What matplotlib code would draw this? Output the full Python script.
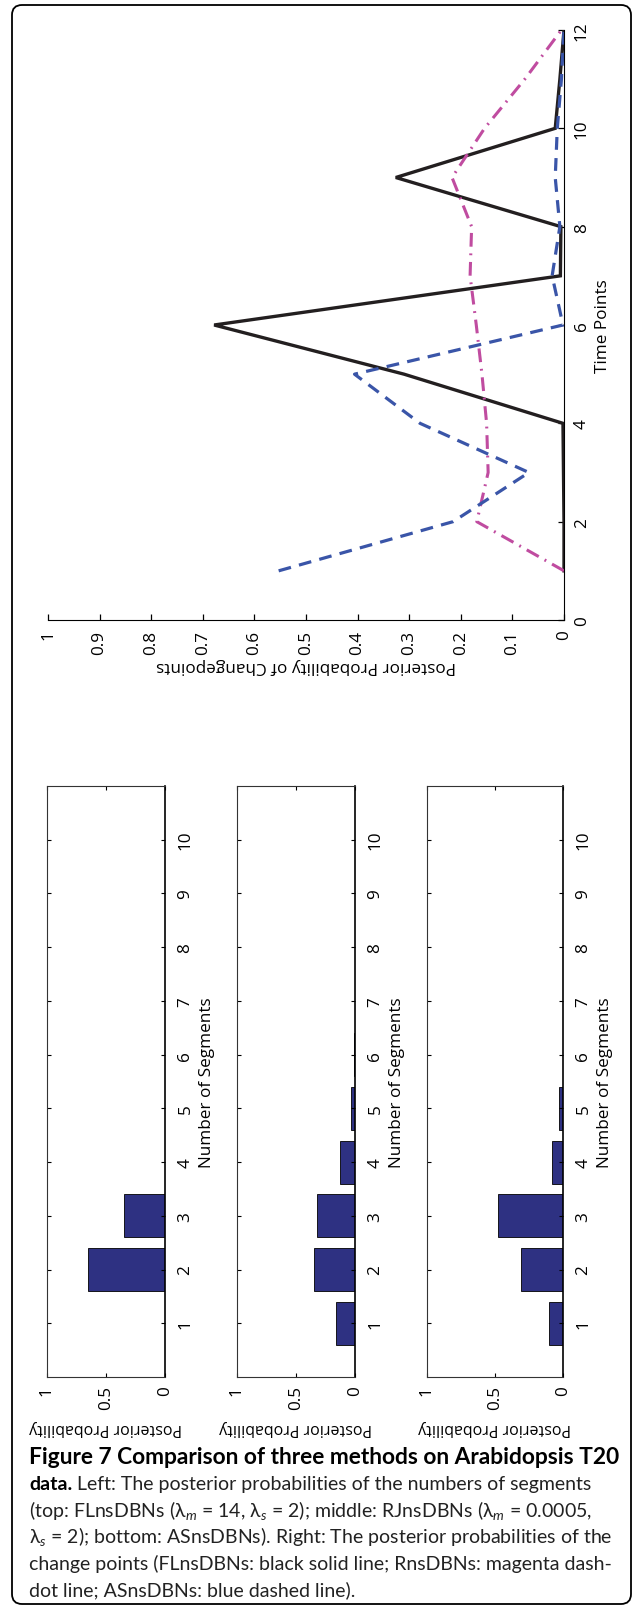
import numpy as np
import matplotlib
matplotlib.use("Agg")
import matplotlib.pyplot as plt
from matplotlib.patches import FancyBboxPatch
from matplotlib.transforms import IdentityTransform

plt.rcParams['font.family'] = ['Open Sans', 'DejaVu Sans']
plt.rcParams['mathtext.fontset'] = 'custom'
plt.rcParams['mathtext.rm'] = 'Lato'
plt.rcParams['mathtext.it'] = 'Lato:italic'
plt.rcParams['mathtext.bf'] = 'Lato:bold'

W, H, DPI = 633, 1608, 100

# right: posterior probability of a changepoint at each time point
time_points = np.arange(1, 13)
cp_flnsdbns = [0.0, 0.0, 0.001, 0.002, 0.31, 0.678, 0.007, 0.006, 0.326, 0.017, 0.008, 0.0]
cp_rnsdbns = [0.0, 0.169, 0.147, 0.150, 0.159, 0.170, 0.182, 0.179, 0.217, 0.154, 0.076, 0.005]
cp_asnsdbns = [0.553, 0.215, 0.068, 0.279, 0.406, 0.002, 0.023, 0.008, 0.017, 0.013, 0.005, 0.0]
prob_ticks = [0, 0.1, 0.2, 0.3, 0.4, 0.5, 0.6, 0.7, 0.8, 0.9, 1]
prob_labels = ['0', '0.1', '0.2', '0.3', '0.4', '0.5', '0.6', '0.7', '0.8', '0.9', '1']
time_ticks = [0, 2, 4, 6, 8, 10, 12]

# left: posterior probability of the number of segments
n_segments = np.arange(1, 11)
seg_flnsdbns = [0.0, 0.65, 0.35, 0.0, 0.0, 0.0, 0.0, 0.0, 0.0, 0.0]
seg_rjnsdbns = [0.16, 0.35, 0.32, 0.13, 0.035, 0.008, 0.0, 0.0, 0.0, 0.0]
seg_asnsdbns = [0.10, 0.31, 0.48, 0.08, 0.03, 0.0, 0.0, 0.0, 0.0, 0.0]

caption_title = "Figure 7 Comparison of three methods on Arabidopsis T20"
caption_lines = [
    "Left: The posterior probabilities of the numbers of segments",
    "(top: FLnsDBNs (λ$_m$ = 14, λ$_s$ = 2); middle: RJnsDBNs (λ$_m$ = 0.0005,",
    "λ$_s$ = 2); bottom: ASnsDBNs). Right: The posterior probabilities of the",
    "change points (FLnsDBNs: black solid line; RnsDBNs: magenta dash-",
    "dot line; ASnsDBNs: blue dashed line).",
]
# right end (px) of each caption line in the reference
caption_ends = [601, 595, 614, 608, None]

BAR = '#2e3182'
TXT = 12.3
CAP_FONT = ['Lato', 'DejaVu Sans']


def px_axes(fig, left, top, right, bottom):
    return fig.add_axes([left / W, 1 - bottom / H, (right - left) / W, (bottom - top) / H])


fig = plt.figure(figsize=(W / DPI, H / DPI), dpi=DPI)

# ---- changepoint plot (drawn rotated: probability runs right-to-left, time upward)
ax = px_axes(fig, 48, 31, 564, 621)
ax.plot(cp_flnsdbns, time_points, color='#231f20', lw=2.4, solid_joinstyle='miter')
ax.plot(cp_rnsdbns, time_points, color='#c04ca0', lw=2.2, ls=(0, (4.5, 2.2, 0.6, 2.2)))
ax.plot(cp_asnsdbns, time_points, color='#3a55a8', lw=2.3, ls=(0, (4, 2.6)))
ax.set_xlim(1, 0)
ax.set_ylim(0, 12)
ax.set_xticks(prob_ticks)
ax.set_xticklabels(prob_labels, rotation=90)
ax.set_yticks(time_ticks)
ax.set_yticklabels([str(t) for t in time_ticks], rotation=90, va='center')
ax.yaxis.tick_right()
ax.yaxis.set_label_position('right')
for s in ['top', 'left']:
    ax.spines[s].set_visible(False)
for s in ['bottom', 'right']:
    ax.spines[s].set_linewidth(0.8)
ax.tick_params(direction='in', length=4, width=0.9, labelsize=TXT)
ax.tick_params(axis='x', pad=7)
ax.tick_params(axis='y', pad=7)
ax.set_xlabel('Posterior Probability of Changepoints', rotation=180, fontsize=TXT, labelpad=2)
ax.set_ylabel('Time Points', rotation=90, fontsize=TXT, labelpad=4)

# ---- three segment-count panels
panels = [(47, 165, seg_flnsdbns), (237, 355, seg_rjnsdbns), (427, 563, seg_asnsdbns)]
for left, right, vals in panels:
    bx = px_axes(fig, left, 787, right, 1378)
    bx.barh(n_segments, vals, height=0.8, color=BAR, edgecolor='black', linewidth=0.6)
    bx.set_xlim(1, 0)
    bx.set_ylim(0, 11)
    bx.set_xticks([0, 0.5, 1])
    bx.set_xticklabels(['0', '0.5', '1'], rotation=90)
    bx.set_yticks(n_segments)
    bx.set_yticklabels([str(n) for n in n_segments], rotation=90, va='center')
    bx.tick_params(direction='in', length=3, width=0.8, labelsize=TXT,
                   top=True, bottom=True, left=True, right=True,
                   labelleft=False, labelright=True)
    bx.tick_params(axis='y', pad=9)
    bx.tick_params(axis='x', pad=6)
    bx.yaxis.set_label_position('right')
    for s in bx.spines.values():
        s.set_linewidth(0.8)
        s.set_edgecolor('#333333')
    bx.spines['right'].set_linewidth(1.2)
    bx.spines['right'].set_edgecolor('black')
    bx.set_ylabel('Number of Segments', rotation=90, fontsize=TXT, labelpad=4)
    bx.set_xlabel('Posterior Probability', rotation=180, fontsize=11.5, labelpad=7)

# ---- caption, sized to the width of the reference lines
renderer = fig.canvas.get_renderer()
x0 = 29
title = fig.text(x0 / W, 1 - 1464 / H, caption_title, fontsize=12, fontweight='bold',
                 family=CAP_FONT, va='baseline')
title.set_fontsize(12 * 589 / title.get_window_extent(renderer).width)

baselines = [1490.5, 1517, 1543, 1570, 1596]
bold = fig.text(x0 / W, 1 - baselines[0] / H, "data.", fontsize=12, fontweight='bold',
                family=CAP_FONT, va='baseline')
texts = [fig.text(x0 / W, 1 - yb / H, line, fontsize=12, family=CAP_FONT,
                  va='baseline', color='#222222')
         for line, yb in zip(caption_lines, baselines)]

bw = bold.get_window_extent(renderer).width
scales = []
for i, (t, end) in enumerate(zip(texts, caption_ends)):
    if end is None:
        continue
    w = t.get_window_extent(renderer).width + (bw * 1.1 if i == 0 else 0)
    scales.append((end - x0) / w)
cap_size = 12 * min(scales)
bold.set_fontsize(cap_size)
for t in texts:
    t.set_fontsize(cap_size)
bw = bold.get_window_extent(renderer).width
texts[0].set_x((x0 + bw + cap_size * DPI / 72 * 0.25) / W)

# ---- rounded frame around the figure
frame = FancyBboxPatch((12, 3), 619, 1599, boxstyle="round,pad=0,rounding_size=10",
                       transform=IdentityTransform(), fill=False, lw=1.3, ec='black')
fig.add_artist(frame)

fig.savefig('out.png', dpi=DPI)
